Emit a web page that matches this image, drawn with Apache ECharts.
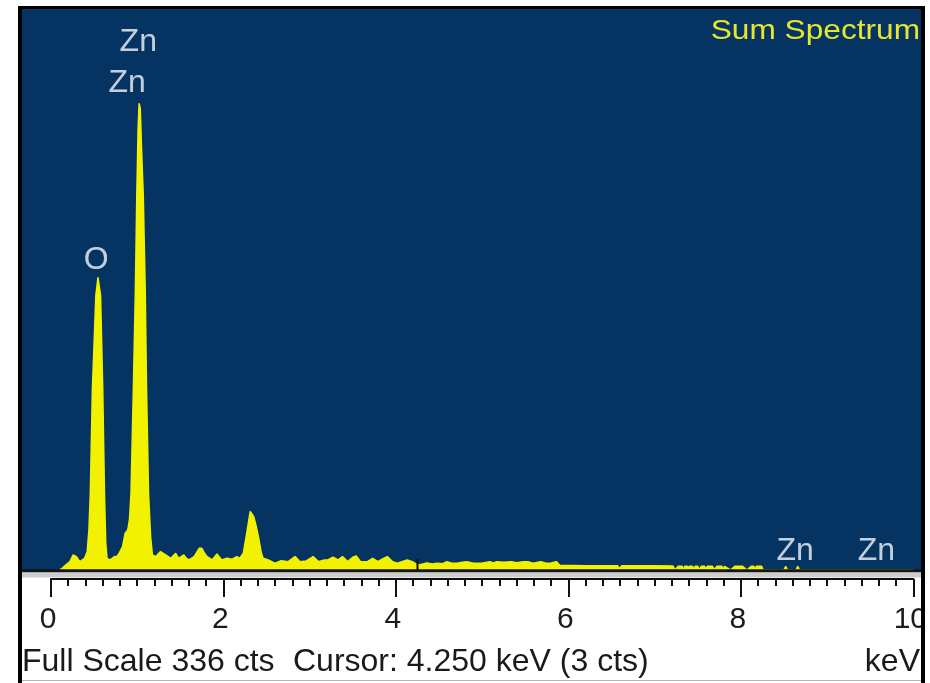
<!DOCTYPE html>
<html>
<head>
<meta charset="utf-8">
<script src="https://cdn.jsdelivr.net/npm/echarts@6/dist/echarts.min.js"></script>
<style>
  html, body { margin: 0; padding: 0; background: #ffffff; }
  #chart { width: 930px; height: 683px; }
</style>
</head>
<body>
<div id="chart"></div>
<script>
// EDS sum spectrum: energy (keV) and counts per sampled point
const energyKeV = [
  0.10, 0.13, 0.17, 0.22, 0.257, 0.295, 0.334, 0.364, 0.39, 0.42,
  0.44, 0.456, 0.48, 0.52, 0.545, 0.575, 0.60, 0.62, 0.635, 0.65,
  0.68, 0.71, 0.736, 0.765, 0.79, 0.83, 0.86, 0.89, 0.91, 0.928,
  0.955, 0.978, 0.995, 1.01, 1.022, 1.035, 1.05, 1.07, 1.093, 1.108,
  1.131, 1.155, 1.176, 1.216, 1.27, 1.33, 1.39, 1.446, 1.48, 1.51,
  1.54, 1.57, 1.60, 1.66, 1.72, 1.75, 1.78, 1.81, 1.87, 1.925,
  1.98, 2.04, 2.10, 2.155, 2.19, 2.23, 2.27, 2.31, 2.35, 2.38,
  2.405, 2.44, 2.46, 2.52, 2.60, 2.67, 2.75, 2.83, 2.885, 2.96,
  3.04, 3.10, 3.17, 3.21, 3.27, 3.33, 3.38, 3.44, 3.50, 3.54,
  3.59, 3.67, 3.73, 3.79, 3.84, 3.90, 3.96, 4.02, 4.07, 4.13,
  4.19, 4.25, 4.30, 4.36, 4.42, 4.48, 4.54, 4.59, 4.65, 4.71,
  4.77, 4.82, 4.90, 4.99, 5.09, 5.13, 5.17, 5.25, 5.34, 5.40,
  5.48, 5.53, 5.59, 5.68, 5.74, 5.80, 5.86, 5.90, 6.20, 6.57,
  6.59, 6.62, 7.00, 7.21, 7.24, 7.27, 7.32, 7.335, 7.35, 7.38,
  7.39, 7.40, 7.44, 7.455, 7.47, 7.50, 7.52, 7.54, 7.58, 7.595,
  7.61, 7.67, 7.695, 7.72, 7.78, 7.795, 7.81, 7.83, 7.88, 7.93,
  8.02, 8.07, 8.12, 8.15, 8.165, 8.18, 8.24, 8.26, 8.50, 8.52,
  8.54, 8.64, 8.66, 8.68, 10.00
];
const counts = [
  0, 1, 3, 5, 9, 8, 5, 6, 7, 11,
  24, 46, 108, 164, 175, 164, 108, 46, 16, 7,
  6, 7, 8, 8, 10, 14, 22, 24, 30, 46,
  108, 166, 224, 264, 279, 276, 252, 224, 166, 108,
  46, 20, 9, 8, 11, 9, 7, 10, 7, 8,
  9, 7, 6, 8, 13, 13, 10, 8, 6, 9.6,
  6, 7, 6.5, 8, 7, 10, 22, 35, 32, 26,
  20, 10, 7, 6, 4, 5.6, 5, 8, 5, 5.4,
  8, 5, 6, 6, 7.6, 6, 8, 5, 7.6, 8.4,
  5, 5, 7, 5, 6.5, 8, 5, 4, 5, 6,
  5, 3, 3.4, 4.2, 3.6, 4, 3.8, 5, 4, 4,
  4.6, 5, 4, 4, 5, 4.2, 5, 4.6, 5, 4.4,
  5, 5, 4, 5, 4, 4.2, 5, 2.8, 2.6, 2.6,
  0.8, 2.5, 2.5, 2.4, 0, 2.2, 2.2, 0, 2.2, 2.2,
  0, 2.2, 2.2, 0, 2.2, 2.2, 0, 2.2, 2.2, 0,
  2.2, 2.2, 0, 2.2, 2.2, 0, 2.2, 2.2, 0, 2.2,
  2.2, 0, 2.2, 2.2, 0, 2.2, 2.2, 0, 0, 2.2,
  0, 0, 2.2, 0, 0
];

// Element line markers
const peakNames = ['O', 'Zn', 'Zn', 'Zn', 'Zn'];
const peakKeV = [0.525, 0.884, 1.012, 8.630, 9.572];
const peakLabelCts = [185.5, 291, 315.5, 11, 11];

// Acquisition readout
const fullScaleCts = 336;
const cursorKeV = 4.25;
const cursorCts = 3;
const axisMaxKeV = 10;
const axisStepKeV = 2;

const cursorMarkHeight = 6.5;  // height of the cursor tick, in counts
const FONT = '"Liberation Sans", Arial, sans-serif';

const spectrum = energyKeV.map((e, i) => [e, counts[i]]);
const labels = peakNames.map((n, i) => ({ name: n, value: [peakKeV[i], peakLabelCts[i]] }));

const chart = echarts.init(document.getElementById('chart'), null, { renderer: 'canvas' });

chart.setOption({
  animation: false,
  backgroundColor: '#ffffff',
  grid: { left: 51, right: 10, top: 8, bottom: 113 },
  xAxis: {
    type: 'value',
    min: 0,
    max: axisMaxKeV,
    interval: axisStepKeV,
    offset: 9,
    axisLine: { show: true, onZero: false, lineStyle: { color: '#111', width: 2 } },
    axisTick: { show: true, length: 18, lineStyle: { color: '#111', width: 2 } },
    minorTick: { show: true, splitNumber: 10, length: 7, lineStyle: { color: '#111', width: 2 } },
    splitLine: { show: false },
    minorSplitLine: { show: false },
    axisLabel: {
      show: true, showMinLabel: true, showMaxLabel: true,
      fontSize: 30, color: '#1c1c1c', fontFamily: FONT,
      margin: 26, padding: [0, 6, 0, 0]
    }
  },
  yAxis: { type: 'value', min: 0, max: fullScaleCts, show: false },
  series: [
    {
      type: 'line',
      data: spectrum,
      symbol: 'none',
      showSymbol: false,
      silent: true,
      lineStyle: { color: '#F2F200', width: 1.5 },
      areaStyle: { color: '#F2F200', opacity: 1 },
      z: 3
    },
    {
      type: 'line',
      data: [[cursorKeV, 0], [cursorKeV, cursorMarkHeight]],
      symbol: 'none',
      silent: true,
      lineStyle: { color: '#111', width: 2 },
      z: 5
    },
    {
      type: 'scatter',
      data: labels,
      symbol: 'circle',
      symbolSize: 1,
      silent: true,
      itemStyle: { color: 'rgba(0,0,0,0)' },
      label: {
        show: true, position: 'inside', formatter: '{b}',
        fontSize: 32, color: '#F2F6FC', fontFamily: FONT
      },
      labelLayout: { hideOverlap: false },
      z: 6
    }
  ],
  graphic: [
    // plot panel
    { type: 'rect', z: 0, shape: { x: 22, y: 9, width: 899, height: 561 }, style: { fill: '#063462' } },
    // baseline strip under the panel
    { type: 'rect', z: 100, shape: { x: 22, y: 569.3, width: 899, height: 3.2 }, style: { fill: '#141414' } },
    { type: 'rect', z: 100, shape: { x: 22, y: 572.5, width: 899, height: 5 }, style: { fill: '#CDCDCD' } },
    // frame
    { type: 'rect', z: 100, shape: { x: 18, y: 6, width: 4, height: 677 }, style: { fill: '#000' } },
    { type: 'rect', z: 100, shape: { x: 18, y: 6, width: 907, height: 3 }, style: { fill: '#000' } },
    { type: 'rect', z: 100, shape: { x: 925, y: 0, width: 5, height: 683 }, style: { fill: '#fff' } },
    { type: 'rect', z: 101, shape: { x: 921, y: 6, width: 4, height: 677 }, style: { fill: '#000' } },
    { type: 'rect', z: 100, shape: { x: 22, y: 680, width: 899, height: 1 }, style: { fill: '#B4B4B4' } },
    // title
    {
      type: 'text', z: 100, x: 920, y: 31, scaleX: 1.13,
      style: { text: 'Sum Spectrum', font: '28px ' + FONT, fill: '#E6E62C', align: 'right', verticalAlign: 'middle' }
    },
    // readout line
    {
      type: 'text', z: 100, x: 22, y: 662,
      style: { text: 'Full Scale ' + fullScaleCts + ' cts', font: '32px ' + FONT, fill: '#1a1a1a', align: 'left', verticalAlign: 'middle' }
    },
    {
      type: 'text', z: 100, x: 293, y: 662,
      style: { text: 'Cursor: ' + cursorKeV.toFixed(3) + ' keV (' + cursorCts + ' cts)', font: '32px ' + FONT, fill: '#1a1a1a', align: 'left', verticalAlign: 'middle' }
    },
    {
      type: 'text', z: 100, x: 920, y: 662,
      style: { text: 'keV', font: '32px ' + FONT, fill: '#1a1a1a', align: 'right', verticalAlign: 'middle' }
    }
  ]
});
</script>
</body>
</html>
